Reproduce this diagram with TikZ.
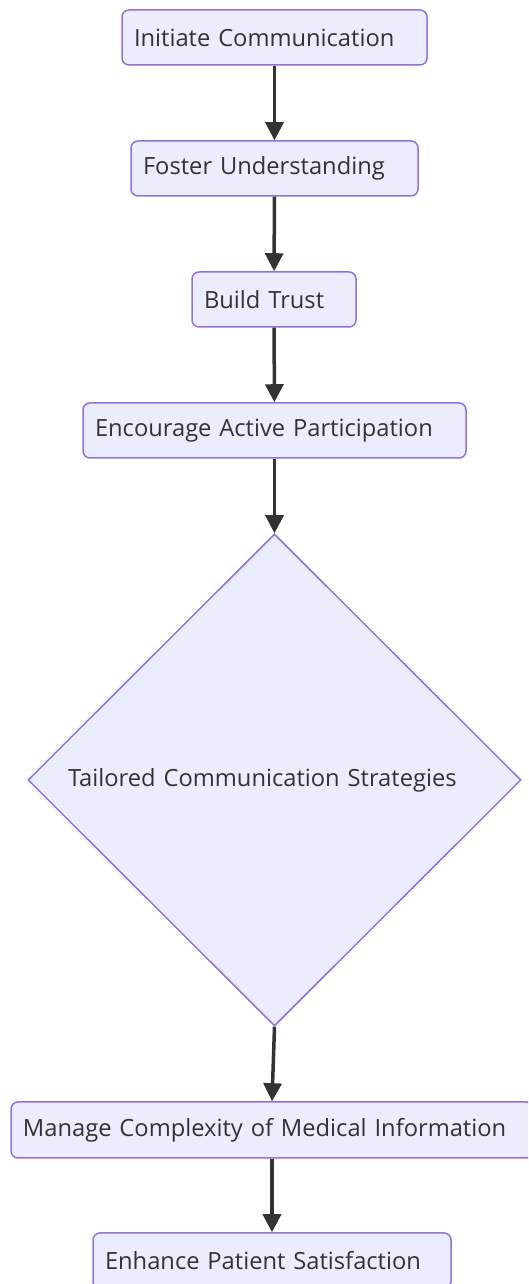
\documentclass[tikz,border=0pt]{standalone}
\usepackage{fontspec}
\setmainfont{Open Sans}
\usetikzlibrary{shapes.geometric,arrows.meta}
\definecolor{boxfill}{HTML}{ECECFF}
\definecolor{boxline}{HTML}{9370DB}
\definecolor{ink}{HTML}{333333}
\begin{document}
\begin{tikzpicture}[x=1pt,y=1pt,
  flowbox/.style={draw=boxline, fill=boxfill, line width=1.5pt, rounded corners=7pt,
    inner sep=0pt, minimum height=55pt, align=left, text=ink,
    font=\fontsize{23.7}{28}\selectfont},
  decision/.style={diamond, draw=boxline, fill=boxfill, line width=1.5pt,
    inner sep=0pt, align=left, text=ink, font=\fontsize{23.7}{28}\selectfont,
    minimum width=493pt, minimum height=492pt},
  flow/.style={draw=ink, line width=3.5pt, -{Triangle[length=18pt,width=18pt]}}]
\useasboundingbox (0,0) rectangle (528,1284);
\clip (0,0) rectangle (528,1284);

% process steps, top to bottom
\node[flowbox, minimum width=305pt, text width=281pt] (init) at (274.5,1246.5) {Initiate Communication};
\node[flowbox, minimum width=287pt, text width=263pt] (foster) at (274.5,1115.5) {Foster Understanding};
\node[flowbox, minimum width=164pt, text width=140pt] (trust) at (274,984.5) {Build Trust};
\node[flowbox, minimum width=383pt, text width=359pt] (engage) at (274.5,853.5) {Encourage Active Participation};
\node[decision, text width=413pt] (tailor) at (274.5,504) {Tailored Communication Strategies};
\node[flowbox, minimum width=522pt, minimum height=56pt, text width=498pt] (manage) at (272,154) {Manage Complexity of Medical Information};
\node[flowbox, minimum width=358pt, text width=334pt] (satisfy) at (272,23.5) {Enhance Patient Satisfaction};

% connectors
\draw[flow] (init) -- (foster);
\draw[flow] (foster) -- (trust);
\draw[flow] (trust) -- (engage);
\draw[flow] (engage) -- (tailor);
\draw[flow] (tailor.south) -- (manage.north);
\draw[flow] (manage) -- (satisfy);
\end{tikzpicture}
\end{document}
